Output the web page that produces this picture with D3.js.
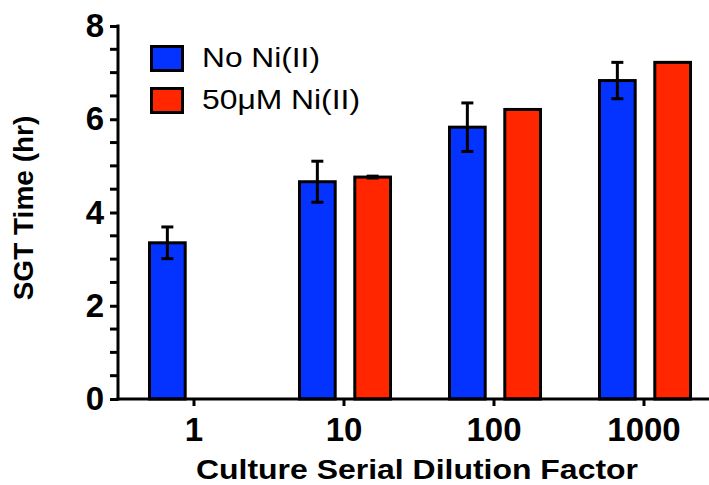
<!DOCTYPE html>
<html>
<head>
<meta charset="utf-8">
<script src="https://cdn.jsdelivr.net/npm/d3@7"></script>
<style>
  html, body { margin: 0; padding: 0; background: #fff; }
  svg { display: block; font-family: Arial, "Liberation Sans", Helvetica, sans-serif; }
</style>
</head>
<body>
<svg id="chart" width="709" height="485"></svg>
<script>
// Culture serial dilution factors (x categories)
const categories = ["1", "10", "100", "1000"];
// Series names
const seriesNames = ["No Ni(II)", "50\u03BCM Ni(II)"];
// Mean SGT time (hr) per series; null = not measured
const noNiValues = [3.35, 4.66, 5.83, 6.83];
const niValues = [null, 4.76, 6.21, 7.22];
// Error bar half-widths (hr)
const noNiErrors = [0.34, 0.44, 0.52, 0.39];
const niErrors = [null, 0.02, 0, 0];
// Y axis ticks
const yMajorTicks = [0, 2, 4, 6, 8];
const yMinorTicks = [0.5, 1, 1.5, 2.5, 3, 3.5, 4.5, 5, 5.5, 6.5, 7, 7.5];

const colors = ["#0433FF", "#FF2600"];

const svg = d3.select("#chart");

const x0 = d3.scaleBand().domain(categories).range([119, 719]).padding(0);
const x1 = d3.scaleBand().domain(seriesNames).range([29, 123]).paddingInner(0.3);
const y = d3.scaleLinear().domain([0, 8]).range([399, 26]);

const rows = categories.map((c, i) => ({
  cat: c,
  bars: [
    { s: seriesNames[0], v: noNiValues[i], e: noNiErrors[i], color: colors[0] },
    { s: seriesNames[1], v: niValues[i], e: niErrors[i], color: colors[1] }
  ].filter(b => b.v != null)
}));

// Bars
const groups = svg.append("g").selectAll("g").data(rows).join("g")
  .attr("transform", d => `translate(${x0(d.cat)},0)`);

groups.selectAll("rect").data(d => d.bars).join("rect")
  .attr("x", d => x1(d.s) + 1.5)
  .attr("width", x1.bandwidth() - 3)
  .attr("y", d => y(d.v))
  .attr("height", d => y(0) - y(d.v))
  .attr("fill", d => d.color)
  .attr("stroke", "#000")
  .attr("stroke-width", 3);

// Error bars
const eb = groups.selectAll("g.err").data(d => d.bars.filter(b => b.e > 0)).join("g")
  .attr("class", "err")
  .attr("stroke", "#000")
  .attr("stroke-width", 3);
const cx = d => x1(d.s) + x1.bandwidth() / 2;
eb.append("line")
  .attr("x1", cx).attr("x2", cx)
  .attr("y1", d => y(d.v + d.e)).attr("y2", d => y(d.v - d.e));
eb.append("line")
  .attr("x1", d => cx(d) - 6).attr("x2", d => cx(d) + 6)
  .attr("y1", d => y(d.v + d.e)).attr("y2", d => y(d.v + d.e));
eb.append("line")
  .attr("x1", d => cx(d) - 6).attr("x2", d => cx(d) + 6)
  .attr("y1", d => y(d.v - d.e)).attr("y2", d => y(d.v - d.e));

// Y axis
const yAxis = svg.append("g").attr("transform", "translate(118,0)");
yAxis.call(d3.axisLeft(y).tickValues(yMajorTicks).tickSize(8).tickSizeOuter(0).tickPadding(6).tickFormat(d3.format("d")));
yAxis.selectAll(".domain").attr("stroke-width", 3).attr("d", `M0,${y(8) - 1.5}V${y(0) + 1.5}`);
yAxis.selectAll(".tick line").attr("stroke-width", 3);
yAxis.selectAll(".tick text").attr("font-size", 33).attr("font-weight", "bold").attr("fill", "#000");
yAxis.selectAll(".minor").data(yMinorTicks).join("line")
  .attr("class", "minor")
  .attr("x1", -8).attr("x2", 0)
  .attr("y1", d => y(d)).attr("y2", d => y(d))
  .attr("stroke", "#000").attr("stroke-width", 3);

// X axis
const xAxis = svg.append("g").attr("transform", `translate(0,${y(0)})`);
xAxis.call(d3.axisBottom(x0).tickSize(7).tickSizeOuter(0));
xAxis.selectAll(".domain").attr("stroke-width", 3).attr("d", "M116.5,0H720");
xAxis.selectAll(".tick line").attr("stroke-width", 3);
xAxis.selectAll(".tick text")
  .attr("font-size", 33).attr("font-weight", "bold").attr("fill", "#000")
  .attr("dy", null).attr("y", 42);

// Axis titles
svg.append("text")
  .attr("x", 417).attr("y", 479)
  .attr("text-anchor", "middle")
  .attr("font-size", 28).attr("font-weight", "bold")
  .attr("textLength", 442).attr("lengthAdjust", "spacingAndGlyphs")
  .text("Culture Serial Dilution Factor");

svg.append("text")
  .attr("transform", "translate(33,208) rotate(-90)")
  .attr("text-anchor", "middle")
  .attr("font-size", 28).attr("font-weight", "bold")
  .text("SGT Time (hr)");

// Legend
const legendWidths = [118, 158];
const legend = svg.append("g").selectAll("g").data(seriesNames).join("g")
  .attr("transform", (d, i) => `translate(150,${45 + i * 42})`);
legend.append("rect")
  .attr("x", 1.5).attr("y", 1.5)
  .attr("width", 31).attr("height", 24)
  .attr("fill", (d, i) => colors[i])
  .attr("stroke", "#000").attr("stroke-width", 3);
legend.append("text")
  .attr("x", 52).attr("y", 22)
  .attr("font-size", 28)
  .attr("textLength", (d, i) => legendWidths[i]).attr("lengthAdjust", "spacingAndGlyphs")
  .text(d => d);
</script>
</body>
</html>
